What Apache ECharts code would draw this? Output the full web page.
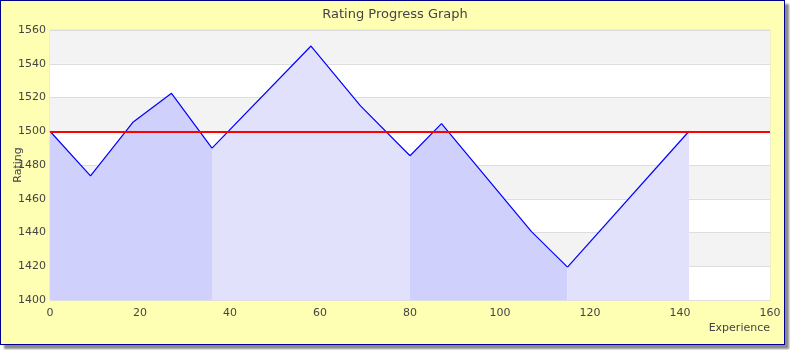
<!DOCTYPE html>
<html>
<head>
<meta charset="utf-8">
<script src="https://cdn.jsdelivr.net/npm/echarts@6/dist/echarts.min.js"></script>
<style>
html,body{margin:0;padding:0;background:#fff;}
#frame{position:absolute;left:0;top:0;width:785px;height:345px;box-sizing:border-box;border:1px solid #000090;background:#FFFFB4;box-shadow:4px 4px 2px #8a8a8a;}
#chart{position:absolute;left:0;top:0;width:790px;height:350px;}
</style>
</head>
<body>
<div id="frame"></div>
<div id="chart"></div>
<script>
// Experience / rating points
const experience = [0, 9, 18.5, 27, 36, 58, 69, 80, 87, 107, 115, 142];
const rating     = [1500, 1473.5, 1505.5, 1522.5, 1490, 1550.5, 1515, 1485.5, 1504.5, 1440.5, 1419.5, 1500];
// segment boundaries (indices into the arrays) for alternating fills
const segments = [[0, 4], [4, 7], [7, 10], [10, 11]];
const segmentFills = ['#D0D0FC', '#E1E1FC', '#D0D0FC', '#E1E1FC'];
const baseline = 1500;
const xTicks = [0, 20, 40, 60, 80, 100, 120, 140, 160];
const yTicks = [1400, 1420, 1440, 1460, 1480, 1500, 1520, 1540, 1560];

const font = 'DejaVu Sans';
const series = segments.map((s, i) => {
  const data = [];
  for (let k = s[0]; k <= s[1]; k++) data.push([experience[k], rating[k]]);
  return {
    type: 'line',
    data: data,
    symbol: 'none',
    silent: true,
    z: 3,
    lineStyle: {color: '#0000FF', width: 1.2},
    areaStyle: {color: segmentFills[i], opacity: 1, origin: 'start'}
  };
});
series.push({
  type: 'line',
  data: [],
  markLine: {
    silent: true,
    symbol: ['none', 'none'],
    label: {show: false},
    lineStyle: {color: '#FF0000', width: 2, type: 'solid'},
    data: [{yAxis: baseline}]
  },
  z: 5
});

const chart = echarts.init(document.getElementById('chart'), null, {renderer: 'canvas'});
chart.setOption({
  animation: false,
  backgroundColor: 'transparent',
  textStyle: {fontFamily: font},
  title: {
    text: 'Rating Progress Graph',
    left: 'center',
    top: 3,
    textStyle: {fontFamily: font, fontSize: 13, fontWeight: 'normal', color: '#444'}
  },
  grid: {
    left: 50, top: 30, width: 720, height: 270,
    containLabel: false, outerBoundsMode: 'none',
    show: true, borderColor: '#dddddd', borderWidth: 1, backgroundColor: '#ffffff'
  },
  xAxis: {
    type: 'value',
    min: xTicks[0], max: xTicks[xTicks.length - 1], interval: 20,
    name: 'Experience',
    nameLocation: 'end',
    nameGap: 0,
    nameMoveOverlap: false,
    nameTextStyle: {fontFamily: font, fontSize: 11, color: '#444', align: 'right', verticalAlign: 'top', padding: [23, 0, 0, 0]},
    axisLine: {show: false},
    axisTick: {show: false},
    splitLine: {show: false},
    axisLabel: {fontFamily: font, fontSize: 11, color: '#444', margin: 8, formatter: v => String(v)}
  },
  yAxis: {
    type: 'value',
    min: yTicks[0], max: yTicks[yTicks.length - 1], interval: 20,
    name: 'Rating',
    nameLocation: 'middle',
    nameGap: 26,
    nameMoveOverlap: false,
    nameTextStyle: {fontFamily: font, fontSize: 11, color: '#444'},
    axisLine: {show: false},
    axisTick: {show: false},
    axisLabel: {fontFamily: font, fontSize: 11, color: '#444', margin: 4, formatter: v => String(v)},
    splitLine: {show: true, lineStyle: {color: '#dddddd', width: 1}},
    splitArea: {show: true, areaStyle: {color: ['#ffffff', '#f3f3f3']}}
  },
  series: series
});
</script>
</body>
</html>
